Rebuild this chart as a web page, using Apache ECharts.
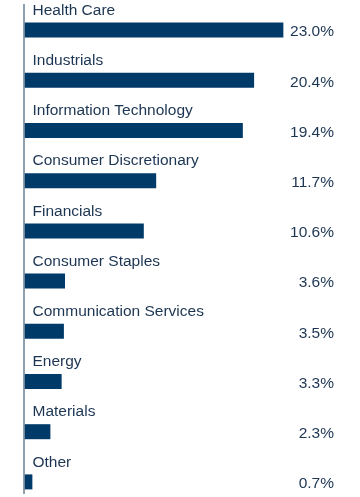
<!DOCTYPE html>
<html><head><meta charset="utf-8">
<script src="https://cdn.jsdelivr.net/npm/echarts@6/dist/echarts.min.js"></script>
<style>html,body{margin:0;padding:0;background:#fff}#c{width:360px;height:497px}</style>
</head><body><div id="c"></div>
<script>
const categories = ["Health Care","Industrials","Information Technology","Consumer Discretionary","Financials","Consumer Staples","Communication Services","Energy","Materials","Other"];
const values = [23.0,20.4,19.4,11.7,10.6,3.6,3.5,3.3,2.3,0.7];
const axisMax = 27.5;

const chart = echarts.init(document.getElementById('c'));
const font = '"Liberation Sans", Arial, sans-serif';
chart.setOption({
  animation: false,
  grid: {left: 24.5, right: 26, top: 5, bottom: -10, containLabel: false, outerBoundsMode: 'none'},
  xAxis: {type: 'value', min: 0, max: axisMax, show: false},
  yAxis: {type: 'category', data: categories, inverse: true,
    axisLine: {show: false}, axisTick: {show: false}, axisLabel: {show: false}},
  graphic: [{type: 'line', shape: {x1: 24, y1: 4, x2: 24, y2: 494},
    style: {stroke: '#6b7f93', lineWidth: 1.5}, z: 10}],
  series: [
    {type: 'bar', data: values, barWidth: 15, itemStyle: {color: '#003a68'},
     label: {show: true, position: [8, -12], formatter: p => p.name,
       color: '#1c3552', fontFamily: font, fontSize: 15.5, verticalAlign: 'middle', align: 'left'}},
    {type: 'bar', data: values.map(v => ({value: axisMax, raw: v})), barWidth: 15, barGap: '-100%',
     itemStyle: {color: 'rgba(0,0,0,0)'}, silent: true,
     label: {show: true, position: 'insideRight', distance: 0, offset: [0, 2],
       formatter: p => p.data.raw.toFixed(1) + '%',
       color: '#1c3552', fontFamily: font, fontSize: 15.5}}
  ]
});
</script></body></html>
